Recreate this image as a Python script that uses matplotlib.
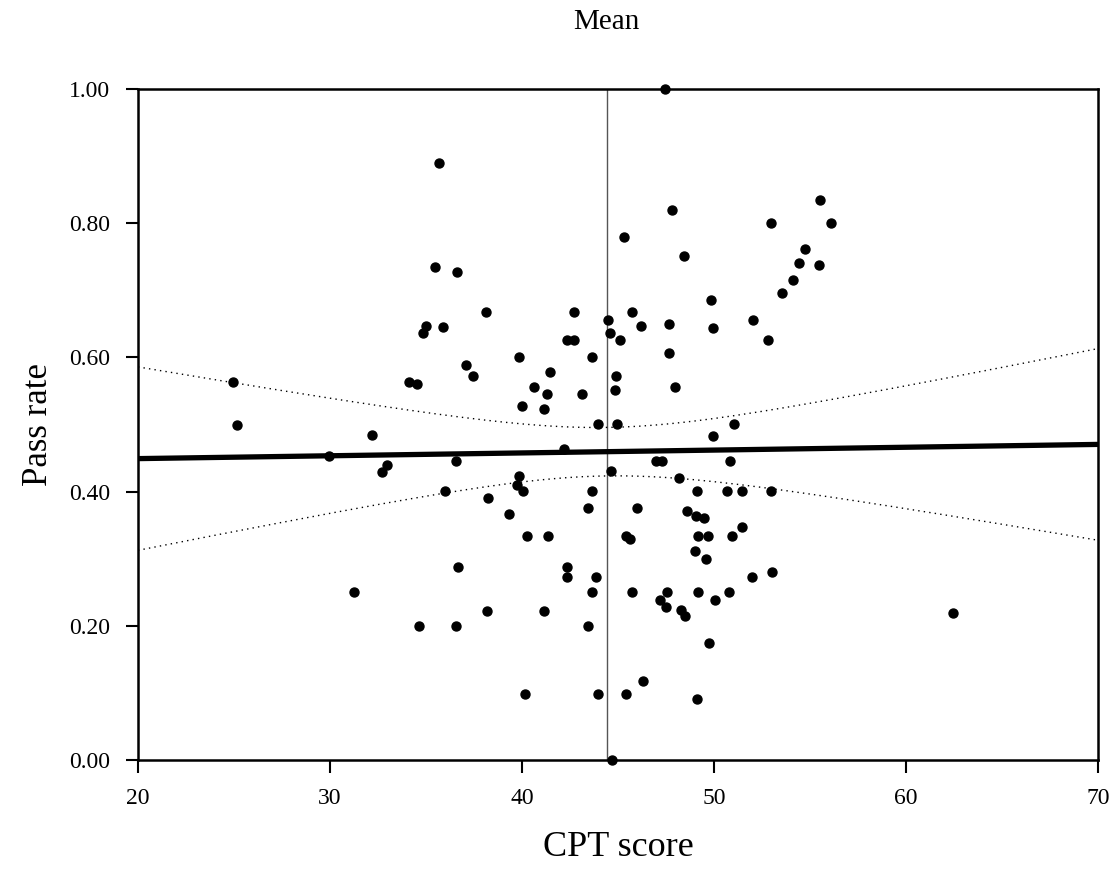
import numpy as np
import matplotlib
matplotlib.use("Agg")
from matplotlib import pyplot as plt

plt.rcParams["font.family"] = ["Liberation Serif", "DejaVu Serif"]

# CPT score vs pass rate
cpt = [24.97, 25.14, 32.17, 29.96, 32.95, 32.69, 36.56, 35.99, 36.68, 31.25,
       34.64, 36.56, 35.68, 35.47, 36.60, 35.00, 34.86, 35.90, 37.08, 37.47,
       34.13, 34.51, 38.10, 47.47, 47.80, 45.30, 48.44, 52.95, 54.44, 54.13,
       53.52, 49.82, 49.96, 52.03, 52.80, 47.67, 47.66, 47.97, 45.73, 46.20,
       44.46, 44.56, 45.10, 42.69, 42.33, 42.71, 39.86, 43.63, 41.46, 40.63,
       41.30, 43.14, 44.90, 44.86, 40.00, 41.13, 43.96, 44.97, 51.06, 55.54,
       56.09, 54.76, 55.47, 49.96, 42.20, 46.98, 47.29, 50.83, 39.86, 39.72,
       40.07, 44.65, 48.19, 43.63, 49.10, 50.69, 51.46, 52.95, 38.25, 39.30,
       43.45, 45.97, 48.60, 49.06, 49.48, 51.47, 40.24, 41.35, 45.40, 45.64,
       49.17, 49.69, 50.95, 49.01, 49.60, 42.36, 42.34, 43.84, 43.63, 45.71,
       47.55, 47.20, 47.48, 49.17, 50.07, 50.78, 51.96, 53.00, 48.30, 48.51,
       38.18, 41.13, 43.45, 49.76, 46.28, 40.14, 43.96, 45.40, 49.13, 44.69,
       62.47]
pass_rate = [0.564, 0.500, 0.485, 0.453, 0.439, 0.429, 0.445, 0.401, 0.287, 0.250,
             0.200, 0.200, 0.890, 0.734, 0.728, 0.647, 0.637, 0.646, 0.589, 0.572,
             0.564, 0.560, 0.668, 1.000, 0.820, 0.779, 0.751, 0.800, 0.741, 0.715,
             0.696, 0.685, 0.644, 0.656, 0.626, 0.650, 0.607, 0.556, 0.668, 0.647,
             0.656, 0.637, 0.626, 0.668, 0.626, 0.626, 0.601, 0.601, 0.578, 0.556,
             0.546, 0.546, 0.572, 0.552, 0.528, 0.523, 0.501, 0.501, 0.501, 0.835,
             0.800, 0.761, 0.738, 0.483, 0.463, 0.446, 0.446, 0.446, 0.424, 0.410,
             0.401, 0.430, 0.420, 0.401, 0.401, 0.401, 0.401, 0.401, 0.390, 0.367,
             0.376, 0.376, 0.371, 0.364, 0.360, 0.348, 0.334, 0.334, 0.334, 0.330,
             0.334, 0.334, 0.334, 0.311, 0.300, 0.287, 0.273, 0.273, 0.250, 0.250,
             0.250, 0.239, 0.228, 0.250, 0.239, 0.250, 0.273, 0.280, 0.223, 0.214,
             0.222, 0.222, 0.200, 0.174, 0.118, 0.099, 0.099, 0.099, 0.091, 0.000,
             0.219]

x = np.array(cpt)
y = np.array(pass_rate)
n = len(x)

# linear fit with 95% confidence band of the mean
slope, icpt = np.polyfit(x, y, 1)
resid = y - (icpt + slope * x)
s = np.sqrt(np.sum(resid ** 2) / (n - 2))
sxx = np.sum((x - x.mean()) ** 2)
xx = np.linspace(20, 70, 200)
yy = icpt + slope * xx
hw = 1.98 * s * np.sqrt(1 / n + (xx - x.mean()) ** 2 / sxx)

fig = plt.figure(figsize=(11.2, 8.76), dpi=100)
ax = fig.add_axes([0.1232, 0.1324, 0.8572, 0.766])

ax.axvline(x.mean(), color="#555555", lw=1.0, zorder=1)
ax.plot(xx, yy, color="black", lw=3.8, zorder=2)
ax.plot(xx, yy + hw, color="black", lw=1.0, ls=(0, (1, 3)), zorder=2)
ax.plot(xx, yy - hw, color="black", lw=1.0, ls=(0, (1, 3)), zorder=2)
ax.scatter(x, y, s=42, color="black", zorder=3, clip_on=False)

ax.set_xlim(20, 70)
ax.set_ylim(0, 1)
ax.set_xticks([20, 30, 40, 50, 60, 70])
ax.set_yticks([0, 0.2, 0.4, 0.6, 0.8, 1.0])
ax.set_yticklabels(["%.2f" % v for v in [0, 0.2, 0.4, 0.6, 0.8, 1.0]])
ax.tick_params(direction="out", length=9, width=1.5, labelsize=17, pad=11)
for sp in ax.spines.values():
    sp.set_linewidth(1.8)

ax.set_xlabel("CPT score", fontsize=26, labelpad=16)
ax.set_ylabel("Pass rate", fontsize=25, labelpad=10)
ax.text(x.mean(), 1.1, "Mean", fontsize=21, ha="center", va="center",
        transform=ax.get_xaxis_transform())

fig.savefig("out.png", dpi=100)
